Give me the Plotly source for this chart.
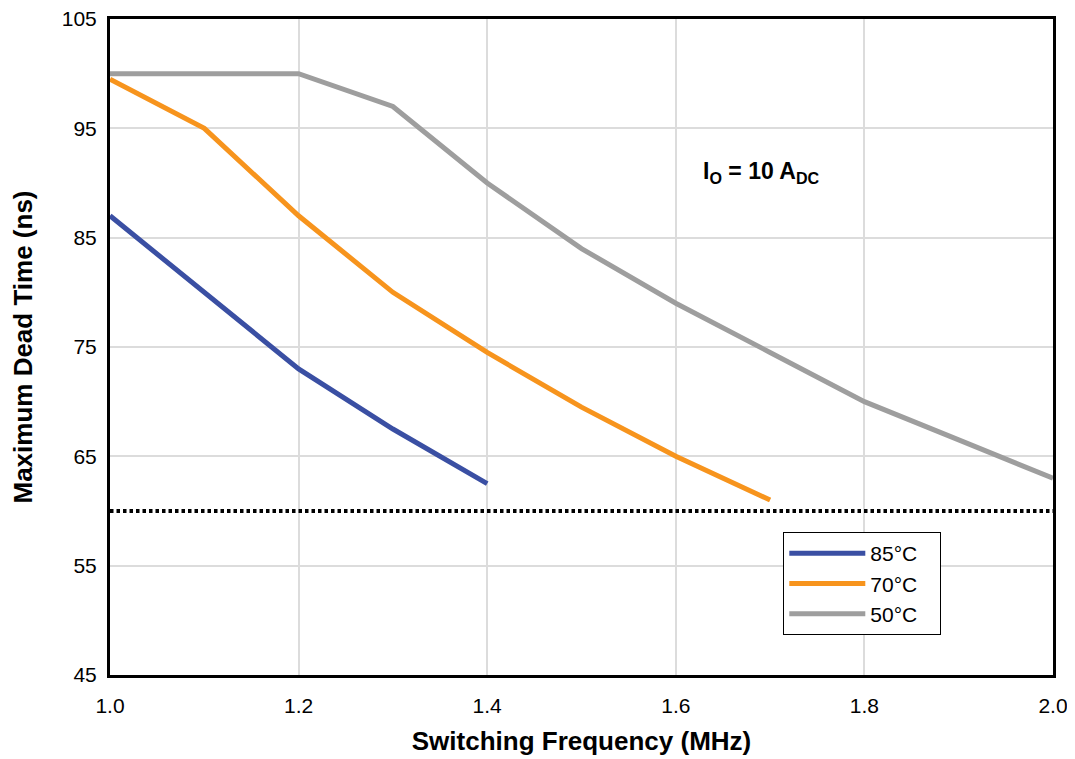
import plotly.graph_objects as go

freq_85 = [1.0, 1.1, 1.2, 1.3, 1.4]
dead_85 = [87.0, 80.0, 73.0, 67.5, 62.5]

freq_70 = [1.0, 1.1, 1.2, 1.3, 1.4, 1.5, 1.6, 1.7]
dead_70 = [99.5, 95.0, 87.0, 80.0, 74.5, 69.5, 65.0, 61.0]

freq_50 = [1.0, 1.1, 1.2, 1.3, 1.4, 1.5, 1.6, 1.7, 1.8, 1.9, 2.0]
dead_50 = [100.0, 100.0, 100.0, 97.0, 90.0, 84.0, 79.0, 74.5, 70.0, 66.5, 63.0]

limit_x = [1.0, 2.0]
limit_y = [60.0, 60.0]

x_ticks = [1.0, 1.2, 1.4, 1.6, 1.8, 2.0]
y_ticks = [45, 55, 65, 75, 85, 95, 105]

fig = go.Figure()
fig.add_trace(go.Scatter(x=limit_x, y=limit_y, mode="lines", showlegend=False,
                         line=dict(color="black", width=4, dash="3.5px,3px"), hoverinfo="skip"))
fig.add_trace(go.Scatter(x=freq_50, y=dead_50, mode="lines", name="50°C   ",
                         line=dict(color="#9E9E9E", width=5)))
fig.add_trace(go.Scatter(x=freq_70, y=dead_70, mode="lines", name="70°C   ",
                         line=dict(color="#F7941D", width=5)))
fig.add_trace(go.Scatter(x=freq_85, y=dead_85, mode="lines", name="85°C   ",
                         line=dict(color="#3A4FA3", width=5)))

fig.add_annotation(x=1.69, y=91, xref="x", yref="y", showarrow=False,
                   text="<b>I<sub>O</sub> = 10 A<sub>DC</sub></b>",
                   font=dict(family="Arial, Liberation Sans", size=23, color="black"))

fig.update_layout(
    width=1067, height=751,
    margin=dict(l=102, r=22, t=11, b=84),
    paper_bgcolor="white", plot_bgcolor="white",
    font=dict(family="Arial, Liberation Sans", color="black"),
    legend=dict(x=0.714, y=0.218, xanchor="left", yanchor="top",
                bordercolor="black", borderwidth=1, bgcolor="white",
                font=dict(size=21), traceorder="reversed",
                itemwidth=76),
    xaxis=dict(range=[1.0, 2.0], tickvals=x_ticks, tickformat=".1f", automargin=False,
               showgrid=True, gridcolor="#DCDCDC", gridwidth=2,
               showline=True, linecolor="black", linewidth=3, mirror=True,
               ticks="", tickfont=dict(size=21), zeroline=False, ticklabelstandoff=10,
               ticklabeloverflow="allow",
               title=dict(text="<b>Switching Frequency (MHz)</b>", font=dict(size=26), standoff=16)),
    yaxis=dict(range=[45, 105], tickvals=y_ticks, automargin=False,
               showgrid=True, gridcolor="#DCDCDC", gridwidth=2,
               showline=True, linecolor="black", linewidth=3, mirror=True,
               ticks="", tickfont=dict(size=21), zeroline=False, ticklabelstandoff=6,
               ticklabeloverflow="allow",
               title=dict(text="<b>Maximum Dead Time (ns)</b>", font=dict(size=26), standoff=30)),
)

fig.write_html("out.html")
